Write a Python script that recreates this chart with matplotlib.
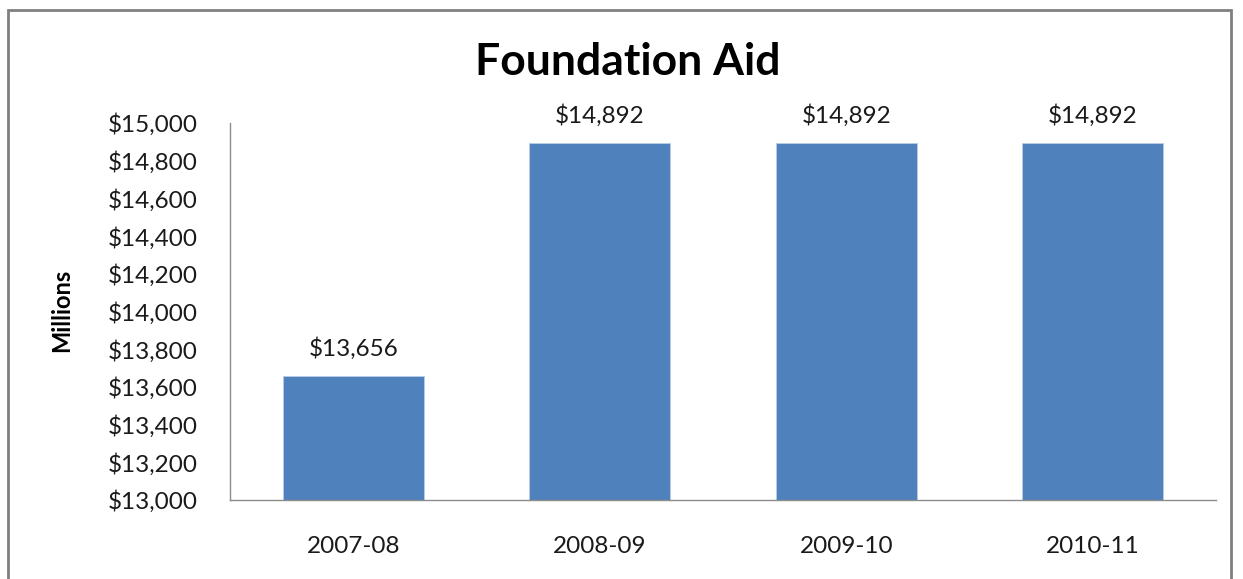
import matplotlib.pyplot as plt
from matplotlib.patches import Rectangle

# Foundation Aid by school year, in millions of dollars
years = ["2007-08", "2008-09", "2009-10", "2010-11"]
aid = [13656, 14892, 14892, 14892]
y_ticks = list(range(13000, 15001, 200))

plt.rcParams['font.family'] = ['Lato', 'DejaVu Sans']

fig = plt.figure(figsize=(12.43, 5.79), dpi=100)
ax = fig.add_axes([230 / 1243, 1 - 500 / 579, 986 / 1243, 377 / 579])

x = range(len(years))
bars = ax.bar(x, aid, width=0.57, color="#4F81BD", edgecolor="#B9CDE5", linewidth=0.6)

for xi, v in zip(x, aid):
    ax.annotate(f"${v:,}", (xi, v), xytext=(0, 12), textcoords="offset points",
                ha="center", va="bottom", fontsize=17.5, color="#1a1a1a")

ax.set_xlim(-0.5, len(years) - 0.5)
ax.set_ylim(13000, 15000)
ax.set_yticks(y_ticks)
ax.set_yticklabels([f"${t:,}" for t in y_ticks], fontsize=17.5, color="#1a1a1a")
ax.set_xticks(list(x))
ax.set_xticklabels(years, fontsize=17.5, color="#1a1a1a")
ax.tick_params(axis="both", length=0)
ax.tick_params(axis="x", pad=26)
ax.tick_params(axis="y", pad=23)

for side in ("top", "right"):
    ax.spines[side].set_visible(False)
for side in ("left", "bottom"):
    ax.spines[side].set_color("#8c8c8c")
    ax.spines[side].set_linewidth(1.0)

fig.text(628 / 1243, 1 - 62 / 579, "Foundation Aid", ha="center", va="center",
         fontsize=32, fontweight="bold", color="black")
fig.text(62 / 1243, 1 - 310 / 579, "Millions", ha="center", va="center",
         rotation=90, fontsize=17, fontweight="bold", color="black")

# outer chart frame
fig.patches.append(Rectangle((8 / 1243, -0.05), 1223 / 1243, 1 - 10 / 579 + 0.05,
                             transform=fig.transFigure, fill=False,
                             edgecolor="#808080", linewidth=2))

fig.savefig("out.png", dpi=100)
